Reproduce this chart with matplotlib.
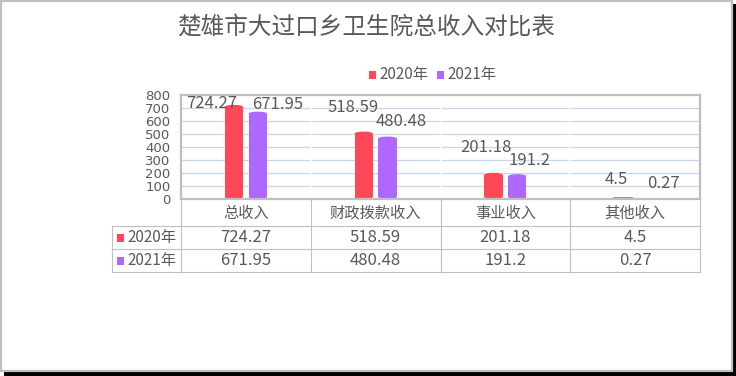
import matplotlib.pyplot as plt
from matplotlib.patches import Rectangle, Ellipse
from matplotlib.transforms import blended_transform_factory

plt.rcParams['font.family'] = ['Noto Sans CJK SC', 'DejaVu Sans']

# Daten
title = "楚雄市大过口乡卫生院总收入对比表"
categories = ["总收入", "财政拨款收入", "事业收入", "其他收入"]
series_names = ["2020年", "2021年"]
values_2020 = [724.27, 518.59, 201.18, 4.5]
values_2021 = [671.95, 480.48, 191.2, 0.27]
label_2020 = ["724.27", "518.59", "201.18", "4.5"]
label_2021 = ["671.95", "480.48", "191.2", "0.27"]

colors = ["#FF4757", "#AF68FF"]
text_color = "#595959"
line_color = "#BFBFBF"
grid_color = "#C9D7EA"
fs_num = 12
fs_cjk = 11
fs_tick = 9.5

# Lage der Datenbeschriftungen (Pixel relativ zur Saeulenoberkante)
offsets = [
    [(-22, 1), (-11, 24), (-7, 25), (-7, 19)],
    [(20, 7), (14, 15), (12, 14), (16, 15)],
]

W, H = 736, 376
fig = plt.figure(figsize=(W / 100, H / 100), dpi=100)

# Hintergrund-Achse in Pixelkoordinaten
bg = fig.add_axes([0, 0, 1, 1], zorder=0)
bg.set_xlim(0, W)
bg.set_ylim(H, 0)
bg.axis("off")

# Rahmen mit Schatten
bg.add_patch(Rectangle((4, 371.5), W, 6, color="black", lw=0))
bg.add_patch(Rectangle((732.5, 4), 6, H, color="black", lw=0))
bg.add_patch(Rectangle((1, 1), 731, 370, facecolor="white", edgecolor=line_color, lw=1.6))

bg.text(W / 2 - 2, 27, title, ha="center", va="center", fontsize=17, color=text_color)

# Legende
leg_x = [369, 437]
for i, name in enumerate(series_names):
    bg.add_patch(Rectangle((leg_x[i], 71), 7, 8, color=colors[i], lw=0))
    bg.text(leg_x[i] + 10, 75, name, ha="left", va="center", fontsize=fs_cjk, color=text_color)

# Diagramm
x0, y0, x1, y1 = 181, 95, 700, 199
ax = fig.add_axes([x0 / W, 1 - y1 / H, (x1 - x0) / W, (y1 - y0) / H], zorder=1)
ax.set_xlim(-0.5, len(categories) - 0.5)
ax.set_ylim(0, 800)
ax.set_yticks(range(0, 801, 100))
ax.set_xticks([])
ax.tick_params(axis="y", length=0, pad=7.5, labelsize=fs_tick, labelcolor=text_color)
for lab in ax.get_yticklabels():
    lab.set_family("DejaVu Sans")
for s in ax.spines.values():
    s.set_color(line_color)
    s.set_linewidth(1.6)
for yv in range(100, 800, 100):
    ax.axhline(yv, color=grid_color, lw=0.9, zorder=0.5)
for k in range(1, len(categories)):
    ax.axvline(k - 0.5, color="white", lw=1.2, zorder=0.6)

bw = 0.14
shift = 0.092
cap = 30
for si, vals in enumerate([values_2020, values_2021]):
    labels = [label_2020, label_2021][si]
    for ci, v in enumerate(vals):
        xc = ci + (-shift if si == 0 else shift)
        if v > cap:
            ax.add_patch(Rectangle((xc - bw / 2, cap / 2), bw, v - cap, color=colors[si], lw=0, zorder=2))
            ax.add_patch(Ellipse((xc, cap / 2), bw, cap, color=colors[si], lw=0, zorder=2))
            ax.add_patch(Ellipse((xc, v - cap / 2), bw, cap, color=colors[si], lw=0, zorder=2))
        else:
            ax.add_patch(Rectangle((xc - bw / 2, 0), bw, v, facecolor=colors[si],
                                   edgecolor=colors[si], lw=1.2, zorder=2))
        dx, dy = offsets[si][ci]
        ax.annotate(labels[ci], (xc, v), xytext=(dx, dy), textcoords="offset pixels",
                    ha="center", va="center", fontsize=fs_num, color=text_color,
                    annotation_clip=False, zorder=3)

# Datentabelle unter dem Diagramm
tr = blended_transform_factory(ax.transData, bg.transData)
row_y = [199, 226, 249, 272]
left = 111.5
lw_t = 0.8
for k in range(len(categories) + 1):
    bg.plot([k - 0.5, k - 0.5], [row_y[0], row_y[-1]], color=line_color, lw=lw_t, transform=tr)
bg.plot([left, left], [row_y[1], row_y[-1]], color=line_color, lw=lw_t)
for ry in row_y[1:]:
    bg.plot([left, x1], [ry, ry], color=line_color, lw=lw_t)

for ci, c in enumerate(categories):
    bg.text(ci, 213, c, ha="center", va="center", fontsize=fs_cjk, color=text_color, transform=tr)
for si, labels in enumerate([label_2020, label_2021]):
    yc = (row_y[si + 1] + row_y[si + 2]) / 2
    bg.add_patch(Rectangle((117, yc - 4), 7, 8, color=colors[si], lw=0))
    bg.text(127, yc, series_names[si], ha="left", va="center", fontsize=fs_cjk, color=text_color)
    for ci, t in enumerate(labels):
        bg.text(ci, yc, t, ha="center", va="center", fontsize=fs_num, color=text_color, transform=tr)

fig.savefig("out.png", dpi=100)
